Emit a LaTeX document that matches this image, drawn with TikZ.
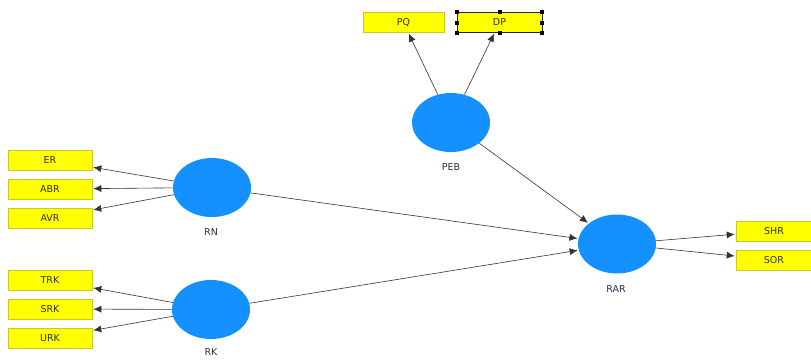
\documentclass[tikz,border=0pt]{standalone}
\usepackage{fontspec}
\setmainfont{DejaVu Sans}
\usetikzlibrary{shapes.geometric,arrows.meta}
\definecolor{lvblue}{RGB}{20,145,255}
\definecolor{mvyellow}{RGB}{255,255,0}
\definecolor{mvborder}{RGB}{200,200,40}
\definecolor{mvtext}{RGB}{50,50,0}
\definecolor{lbltext}{RGB}{40,50,70}
\tikzset{
  lv/.style={ellipse, fill=lvblue, draw=none, minimum width=78pt, minimum height=59pt, inner sep=0pt},
  mv/.style={rectangle, fill=mvyellow, draw=mvborder, line width=0.6pt, minimum width=84pt, minimum height=20pt, inner sep=0pt, text=mvtext, font=\fontsize{9.5}{11}\selectfont},
  lvlabel/.style={text=lbltext, font=\fontsize{9.5}{11}\selectfont, inner sep=0pt},
  arr/.style={-{Latex[length=8pt,width=7pt]}, draw=black!80, line width=0.6pt, shorten >=1pt},
  handle/.style={rectangle, fill=black, minimum size=4pt, inner sep=0pt}
}
\begin{document}
\begin{tikzpicture}[x=1pt,y=-1pt]
\useasboundingbox (0,0) rectangle (811,360);
% measurement variables
\node[mv, minimum width=81pt] (PQ) at (403.5,22.5) {PQ};
\node[mv, minimum width=85pt, draw=black!85] (DP) at (499.5,22.5) {DP};
\node[mv] (ER) at (50,160) {ER};
\node[mv] (ABR) at (50,189) {ABR};
\node[mv] (AVR) at (50,218) {AVR};
\node[mv] (TRK) at (50,280) {TRK};
\node[mv] (SRK) at (50,309) {SRK};
\node[mv] (URK) at (50,338) {URK};
\node[mv, minimum width=76pt] (SHR) at (774,231) {SHR};
\node[mv, minimum width=76pt] (SOR) at (774,260) {SOR};
% selection handles on DP
\foreach \a in {north west,north,north east,west,east,south west,south,south east}
  \node[handle] (h-\a) at (DP.\a) {};
% latent variables
\node[lv] (PEB) at (451,122.5) {};
\node[lv] (RN) at (212,187.5) {};
\node[lv] (RK) at (211,309.5) {};
\node[lv] (RAR) at (617,244) {};
\node[lvlabel] (PEBl) at (451,167) {PEB};
\node[lvlabel] (RNl) at (211,232) {RN};
\node[lvlabel] (RKl) at (211,352) {RK};
\node[lvlabel] (RARl) at (616,289) {RAR};
% connectors
\draw[arr] (PEB) -- (PQ);
\draw[arr] (PEB) -- (DP);
\draw[arr] (RN) -- (ER);
\draw[arr] (RN) -- (ABR);
\draw[arr] (RN) -- (AVR);
\draw[arr] (RK) -- (TRK);
\draw[arr] (RK) -- (SRK);
\draw[arr] (RK) -- (URK);
\draw[arr] (RN) -- (RAR);
\draw[arr] (PEB) -- (RAR);
\draw[arr] (RK) -- (RAR);
\draw[arr] (RAR) -- (SHR);
\draw[arr] (RAR) -- (SOR);
\end{tikzpicture}
\end{document}
